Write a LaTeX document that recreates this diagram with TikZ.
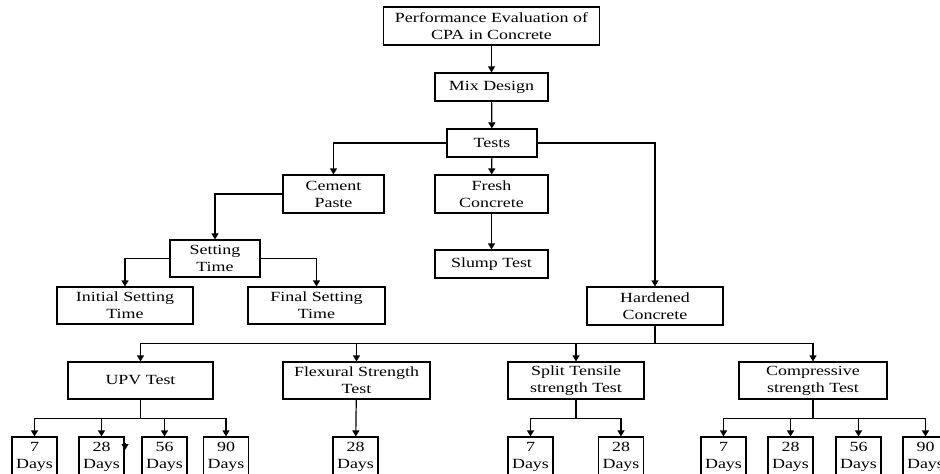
\documentclass[tikz,border=0pt]{standalone}
\usepackage{fontspec}
\setmainfont{Liberation Serif}[FakeStretch=1.28]
\usepackage{tikz}
\usetikzlibrary{arrows.meta}

\begin{document}
\begin{tikzpicture}[
    x=1pt, y=-1pt,
    font=\fontsize{14}{17}\selectfont,
    block/.style={rectangle, draw, line width=1.2pt, align=center, inner sep=0pt, minimum height=37pt},
    daybox/.style={block, minimum width=45pt, minimum height=40pt},
    line/.style={line width=1.2pt},
    arrow/.style={line width=1.2pt,->,>={Triangle[width=7pt,length=6pt]}}
]
    \useasboundingbox (0,0) rectangle (940,474);

    \node[block, minimum width=216pt, minimum height=38pt] (cpa) at (491.5,26) {Performance Evaluation of\\CPA in Concrete};
    \node[block, minimum width=113pt, minimum height=28pt] (mix) at (491.5,87) {Mix Design};
    \node[block, minimum width=90pt, minimum height=28pt] (tests) at (492,143) {Tests};
    \node[block, minimum width=101pt, minimum height=38pt] (paste) at (333.5,194) {Cement\\Paste};
    \node[block, minimum width=113pt, minimum height=38pt] (fresh) at (491.5,194) {Fresh\\Concrete};
    \node[block, minimum width=90pt] (setting) at (215,258.5) {Setting\\Time};
    \node[block, minimum width=136pt] (initial) at (125,305.5) {Initial Setting\\Time};
    \node[block, minimum width=137pt] (final) at (316.5,305.5) {Final Setting\\Time};
    \node[block, minimum width=113pt, minimum height=28pt] (slump) at (491.5,264) {Slump Test};
    \node[block, minimum width=136pt, minimum height=38pt] (hardened) at (655,306) {Hardened\\Concrete};

    \node[block, minimum width=145pt] (upv) at (140.5,380.5) {UPV Test};
    \node[block, minimum width=147pt] (flex) at (356.5,380.5) {Flexural Strength\\Test};
    \node[block, minimum width=136pt] (split) at (576,380.5) {Split Tensile\\strength Test};
    \node[block, minimum width=148pt] (comp) at (813,380.5) {Compressive\\strength Test};

    % curing ages
    \node[daybox] (upv7) at (34.5,457) {7\\Days};
    \node[daybox] (upv28) at (101.5,457) {28\\Days};
    \node[daybox] (upv56) at (164.5,457) {56\\Days};
    \node[daybox] (upv90) at (226,457) {90\\Days};
    \node[daybox] (flex28) at (355.5,457) {28\\Days};
    \node[daybox] (split7) at (530.5,457) {7\\Days};
    \node[daybox] (split28) at (621,457) {28\\Days};
    \node[daybox] (comp7) at (723.5,457) {7\\Days};
    \node[daybox] (comp28) at (790.5,457) {28\\Days};
    \node[daybox] (comp56) at (858.5,457) {56\\Days};
    \node[daybox] (comp90) at (925.5,457) {90\\Days};

    \draw[arrow] (cpa) -- (mix);
    \draw[arrow] (mix) -- (tests);
    \draw[arrow] (tests.west) -| (paste.north);
    \draw[arrow] (tests) -- (fresh);
    \draw[arrow] (tests.east) -| (hardened.north);
    \draw[arrow] (fresh) -- (slump);
    \draw[arrow] (paste.west) -| (setting.north);
    \draw[arrow] (setting.west) -| (initial.north);
    \draw[arrow] (setting.east) -| (final.north);

    \coordinate (hbus) at ([yshift=-18pt]hardened.south);
    \draw[line] (hardened) -- (hbus);
    \foreach \t in {upv,flex,split,comp}
        \draw[arrow] (hbus) -| (\t.north);

    \coordinate (ubus) at ([yshift=-19pt]upv.south);
    \draw[line] (upv) -- (ubus);
    \foreach \d in {upv7,upv28,upv56,upv90}
        \draw[arrow] (ubus) -| (\d.north);
    \coordinate (stray) at (125,443);
    \draw[arrow] (stray) -- ++(0,7);

    \draw[arrow] (flex) -- (flex28);

    \coordinate (sbus) at ([yshift=-19pt]split.south);
    \draw[line] (split) -- (sbus);
    \foreach \d in {split7,split28}
        \draw[arrow] (sbus) -| (\d.north);

    \coordinate (cbus) at ([yshift=-19pt]comp.south);
    \draw[line] (comp) -- (cbus);
    \foreach \d in {comp7,comp28,comp56,comp90}
        \draw[arrow] (cbus) -| (\d.north);
\end{tikzpicture}
\end{document}
